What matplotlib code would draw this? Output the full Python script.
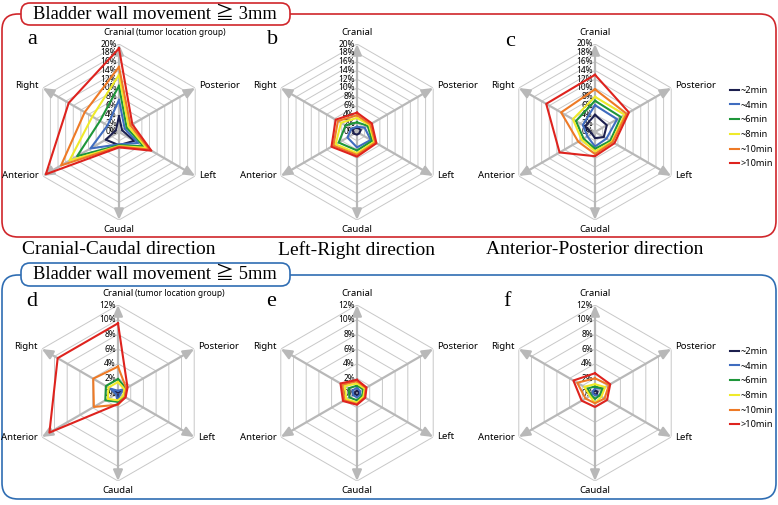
import numpy as np
import matplotlib
matplotlib.use('Agg')
import matplotlib.pyplot as plt
from matplotlib.patches import FancyBboxPatch

# ---------------- data ----------------
directions = ['Cranial', 'Posterior', 'Left', 'Caudal', 'Anterior', 'Right']
series_labels = ['~2min', '~4min', '~6min', '~8min', '~10min', '>10min']
series_colors = ['#1C1F4E', '#3F6CBF', '#1E963A', '#EFEA2A', '#EE7A26', '#DE231E']

top_ticks = [0, 2, 4, 6, 8, 10, 12, 14, 16, 18, 20]
bottom_ticks = [0, 2, 4, 6, 8, 10, 12]

# rows: ~2min, ~4min, ~6min, ~8min, ~10min, >10min ; columns follow `directions`
a_vals = [[3.6, 0.8, 4.0, 3.0, 3.5, 0.8],
          [7.3, 1.5, 5.0, 2.8, 7.5, 3.0],
          [10.5, 2.0, 6.5, 3.0, 11.0, 5.0],
          [13.0, 2.5, 7.2, 3.2, 13.0, 7.0],
          [14.8, 3.0, 8.0, 3.3, 15.2, 9.0],
          [19.0, 3.5, 8.5, 3.5, 19.2, 13.2]]
b_vals = [[1.0, 1.0, 0.6, 0.6, 0.8, 1.2],
          [1.2, 2.0, 3.6, 3.5, 2.5, 1.5],
          [2.2, 2.8, 4.0, 4.2, 4.8, 3.0],
          [3.2, 3.2, 4.5, 4.8, 5.6, 4.2],
          [3.8, 3.5, 4.8, 5.2, 6.2, 5.0],
          [4.4, 3.9, 5.1, 5.6, 6.7, 5.6]]
c_vals = [[3.9, 3.1, 2.3, 1.4, 0.8, 2.6],
          [6.1, 5.8, 3.0, 3.3, 2.0, 3.2],
          [7.1, 6.8, 4.0, 3.8, 3.0, 5.0],
          [8.0, 7.8, 4.4, 4.4, 3.5, 5.8],
          [9.7, 8.3, 4.6, 5.0, 4.4, 8.9],
          [13.0, 8.9, 5.1, 5.5, 9.3, 12.8]]
d_vals = [[0.2, 0.8, 0.2, 1.2, 0.2, 0.8],
          [0.3, 1.2, 0.3, 1.5, 0.3, 1.2],
          [1.9, 1.3, 0.9, 1.2, 2.0, 1.9],
          [1.5, 1.0, 0.8, 1.0, 1.6, 1.5],
          [3.6, 1.3, 1.1, 1.6, 3.8, 3.9],
          [9.5, 1.5, 1.2, 1.5, 10.8, 9.5]]
e_vals = [[0.3, 0.3, 0.3, 0.3, 0.3, 0.3],
          [0.7, 0.5, 0.5, 0.6, 0.6, 0.7],
          [1.0, 1.0, 0.8, 1.0, 1.2, 1.3],
          [1.3, 1.2, 1.0, 1.3, 1.7, 1.9],
          [1.6, 1.4, 1.2, 1.5, 2.0, 2.3],
          [1.8, 1.5, 1.3, 1.6, 2.2, 2.6]]
f_vals = [[0.3, 0.4, 0.3, 0.2, 0.2, 0.3],
          [0.6, 1.3, 0.8, 0.3, 0.3, 0.4],
          [0.9, 1.2, 0.7, 0.8, 0.6, 1.2],
          [1.2, 1.6, 1.0, 1.4, 0.8, 1.7],
          [2.0, 2.2, 1.5, 1.4, 1.5, 2.8],
          [2.7, 2.4, 1.9, 1.9, 2.1, 3.4]]

group_titles = ['Bladder wall movement \u2267 3mm', 'Bladder wall movement \u2267 5mm']
direction_titles = ['Cranial-Caudal direction', 'Left-Right direction', 'Anterior-Posterior direction']
panel_letters = ['a', 'b', 'c', 'd', 'e', 'f']

# ---------------- layout ----------------
W, H = 778, 505
fig = plt.figure(figsize=(W / 100, H / 100), dpi=100)
bg = fig.add_axes([0, 0, 1, 1], zorder=0)
bg.set_xlim(0, W)
bg.set_ylim(H, 0)
bg.axis('off')

serif = ['Liberation Serif', 'Noto Sans CJK JP', 'DejaVu Serif']
sans = ['Noto Sans', 'DejaVu Sans']


def rbox(x0, y0, x1, y1, rad, ec, fc='none', lw=1.2, z=1):
    bg.add_patch(FancyBboxPatch((x0, y0), x1 - x0, y1 - y0,
                                boxstyle=f'round,pad=0,rounding_size={rad}',
                                ec=ec, fc=fc, lw=lw, zorder=z))


red_frame = '#D0262B'
blue_frame = '#2F6DB3'
rbox(2, 14, 776, 237, 16, red_frame)
rbox(21, 3, 290, 25, 9, red_frame, fc='white', z=2)
bg.text(155, 14, group_titles[0], ha='center', va='center', fontsize=13.3,
        family=serif, zorder=3)
rbox(2, 275, 776, 499, 16, blue_frame)
rbox(21, 263, 290, 286, 9, blue_frame, fc='white', z=2)
bg.text(155, 274.5, group_titles[1], ha='center', va='center', fontsize=13.3,
        family=serif, zorder=3)

centers_x = [119, 357, 595]
for cx, t in zip(centers_x, direction_titles):
    bg.text(cx, 250, t, ha='center', va='center', fontsize=14, family=serif)

letter_pos = [(32, 40), (273, 40), (510, 41), (32, 302), (271, 302), (507, 302)]
for (lx, ly), l in zip(letter_pos, panel_letters):
    bg.text(lx, ly, l, ha='center', va='center', fontsize=16, family=serif)

theta = np.deg2rad(np.arange(6) * 60.0)
theta_c = np.append(theta, theta[0])

label_offsets = [(0, 8, 'center'), (3, 1.5, 'left'), (3, 0, 'left'),
                 (0, -7, 'center'), (-3, 0, 'right'), (-3, 1.5, 'right')]


def radar(cx, cy, vals, ticks, tumor=False):
    R = 88
    ax = fig.add_axes([(cx - R) / W, 1 - (cy + R) / H, 2 * R / W, 2 * R / H],
                      projection='polar', zorder=2)
    ax.set_theta_zero_location('N')
    ax.set_theta_direction(-1)
    rmax = ticks[-1]
    ax.set_ylim(0, rmax)
    ax.axis('off')
    for t in ticks[1:]:
        ax.plot(theta_c, [t] * 7, color='#C8C8C8', lw=0.7, zorder=1)
    for th in theta:
        ax.annotate('', xy=(th, rmax), xytext=(th, 0),
                    arrowprops=dict(arrowstyle='-|>,head_length=0.8,head_width=0.35',
                                    color='#B8B8B8', lw=1.6, shrinkA=0, shrinkB=0,
                                    mutation_scale=8), zorder=2)
    for t in ticks:
        ax.annotate(f'{t}%', xy=(0, t), xytext=(-1.5, 0), textcoords='offset points',
                    ha='right', va='center', fontsize=6.0, family=sans, zorder=3)
    for v, c, lab in zip(vals, series_colors, series_labels):
        ax.plot(theta_c, np.append(v, v[0]), color=c, lw=1.5, label=lab, zorder=4)
    for th, name, (ox, oy, ha) in zip(theta, directions, label_offsets):
        ax.annotate(name, xy=(th, rmax), xytext=(ox, oy), textcoords='offset points',
                    ha=ha, va='center', fontsize=6.9, family=sans, annotation_clip=False)
    if tumor:
        ax.annotate('(tumor location group)', xy=(0, rmax), xytext=(12.5, 8),
                    textcoords='offset points', ha='left', va='center',
                    fontsize=6.0, family=sans, annotation_clip=False)
    return ax


ax_a = radar(119, 132, a_vals, top_ticks, tumor=True)
ax_b = radar(357, 132, b_vals, top_ticks)
ax_c = radar(595, 132, c_vals, top_ticks)
ax_d = radar(118, 393, d_vals, bottom_ticks, tumor=True)
ax_e = radar(357, 393, e_vals, bottom_ticks)
ax_f = radar(595, 393, f_vals, bottom_ticks)

for ax, ytop in [(ax_c, 86), (ax_f, 347)]:
    ax.legend(loc='upper left', bbox_to_anchor=(730 / W, 1 - ytop / H),
              bbox_transform=fig.transFigure, frameon=False,
              handlelength=1.0, handletextpad=0.1, labelspacing=0.62,
              borderpad=0, borderaxespad=0, prop={'family': sans, 'size': 6.6})

fig.savefig('out.png', dpi=100)
